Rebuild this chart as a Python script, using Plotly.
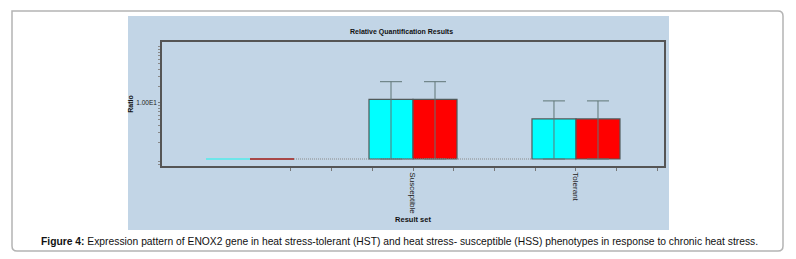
import plotly.graph_objects as go

# ---- data ----
groups = ["Calibrator", "Susceptible", "Tolerant"]
group_pos = [1, 2, 3]
tick_labels = {2: "Susceptible", 3: "Tolerant"}
ratio_a = [1.0, 11.6, 5.2]        # cyan series
ratio_b = [1.0, 11.6, 5.2]        # red series
err_up_a = [0.0, 12.4, 5.7]
err_up_b = [0.0, 12.4, 5.7]
err_dn_a = [0.0, 10.6, 4.2]
err_dn_b = [0.0, 10.6, 4.2]
base_value = 1.0
y_label_vals = [10]
y_label_text = ["1.00E1"]

W, H = 796, 259
BW = 0.27

def px_x(p):
    return p / W

def px_y(p):
    return 1 - p / H

fig = go.Figure()

series = [
    (ratio_a, err_up_a, err_dn_a, "#6ee6ea", "#00ffff", -BW),
    (ratio_b, err_up_b, err_dn_b, "#a84848", "#ff0000", 0.0),
]

for vals, eu, ed, cal_col, col, off in series:
    # calibrator (ratio 1, drawn as a flat bar)
    fig.add_trace(go.Bar(
        x=group_pos[:1], y=[v - base_value for v in vals[:1]], base=base_value,
        width=BW, offset=off,
        marker=dict(color=cal_col, line=dict(color=cal_col, width=2.2)),
        showlegend=False))
    # sample groups with error bars
    fig.add_trace(go.Bar(
        x=group_pos[1:], y=[v - base_value for v in vals[1:]], base=base_value,
        width=BW, offset=off,
        marker=dict(color=col, line=dict(color="#505a5a", width=1.2)),
        error_y=dict(type="data", array=eu[1:], arrayminus=ed[1:], visible=True,
                     color="#5f7575", thickness=1, width=11),
        showlegend=False))

# baseline dotted line at ratio = 1 (between the groups)
fig.add_trace(go.Scatter(
    x=[group_pos[0] + BW, group_pos[-1] - BW], y=[base_value, base_value],
    mode="lines", line=dict(color="#8a8a8a", width=1, dash="1px,1px"),
    hoverinfo="skip", showlegend=False))

xt = [1.25 + 0.25 * i for i in range(10)]
fig.update_layout(
    width=W, height=H,
    margin=dict(l=0, r=0, t=0, b=0),
    paper_bgcolor="white",
    plot_bgcolor="white",
    barmode="overlay",
    font=dict(family="Liberation Sans, Arial, sans-serif", color="#111"),
    xaxis=dict(
        domain=[px_x(162), px_x(664)],
        range=[0.46, 3.54],
        tickmode="array", tickvals=xt,
        ticktext=[tick_labels.get(v, "") for v in xt],
        tickangle=90, ticks="outside", ticklen=3, tickcolor="#777",
        tickfont=dict(size=8, color="#222"),
        showgrid=False, zeroline=False,
        showline=True, linecolor="#555", linewidth=1.5, mirror=True,
        title=dict(text="<b>Result set</b>", font=dict(size=7.5, color="#111"),
                   standoff=3),
    ),
    yaxis=dict(
        domain=[px_y(166), px_y(42)],
        type="log", range=[-0.125, 2.089],
        tickmode="array", tickvals=y_label_vals, ticktext=y_label_text,
        ticks="outside", ticklen=2, tickcolor="#777",
        tickfont=dict(size=6.5, color="#222"),
        minor=dict(tickvals=[0.8, 0.9, 2, 3, 4, 5, 6, 7, 8, 9, 20, 30, 40, 50, 60, 70, 80, 90, 100],
                   ticks="outside", ticklen=2, tickcolor="#888"),
        showgrid=False, zeroline=False,
        showline=True, linecolor="#555", linewidth=1.5, mirror=True,
        title=dict(text="<b>Ratio</b>", font=dict(size=7, color="#111"), standoff=2),
    ),
    shapes=[
        dict(type="path", xref="paper", yref="paper", layer="below",
             path=("M {l},{t} L {r1},{t} Q {r},{t} {r},{t1} L {r},{b1} Q {r},{b} {r1},{b} "
                   "L {l1},{b} Q {l},{b} {l},{b1} Z").format(
                 l=px_x(12), r=px_x(783), t=px_y(11), b=px_y(251),
                 l1=px_x(17), r1=px_x(778), t1=px_y(16), b1=px_y(246)),
             line=dict(color="#b4b4b4", width=1.5), fillcolor="white"),
        dict(type="rect", xref="paper", yref="paper", layer="below",
             x0=px_x(128), x1=px_x(669), y0=px_y(230), y1=px_y(16),
             line=dict(width=0), fillcolor="#c2d5e6"),
    ],
    annotations=[
        dict(text="<b>Relative Quantification Results</b>", xref="paper", yref="paper",
             x=px_x(401), y=px_y(32), showarrow=False, font=dict(size=7, color="#111"),
             xanchor="center", yanchor="middle"),
        dict(text="<b>Figure 4:</b> Expression pattern of ENOX2 gene in heat stress-tolerant (HST) and heat stress- susceptible (HSS) phenotypes in response to chronic heat stress.",
             xref="paper", yref="paper", x=px_x(399), y=px_y(241), showarrow=False,
             font=dict(size=10.3, color="#111"), xanchor="center", yanchor="middle"),
    ],
)

fig.write_html("out.html", post_script="document.body.style.margin='0';",
               config={"displayModeBar": False})
